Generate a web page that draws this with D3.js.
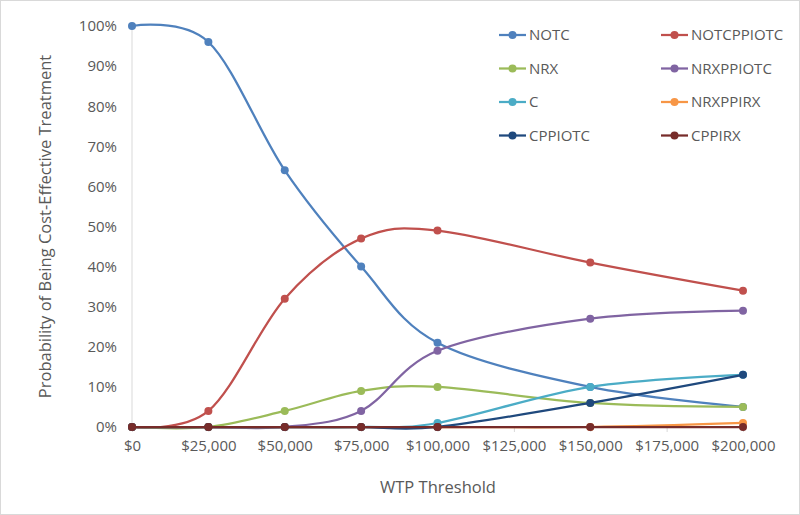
<!DOCTYPE html>
<html><head><meta charset="utf-8">
<script src="https://cdn.jsdelivr.net/npm/d3@7/dist/d3.min.js"></script>
<style>body{margin:0;background:#fff}svg{display:block}</style>
</head><body>
<svg id="c" width="800" height="515"></svg>
<script>
const xValues = [0, 25000, 50000, 75000, 100000, 150000, 200000];
const xTicks = [0, 25000, 50000, 75000, 100000, 125000, 150000, 175000, 200000];
const yTicks = [0, 10, 20, 30, 40, 50, 60, 70, 80, 90, 100];
const seriesNames = ["NOTC","NOTCPPIOTC","NRX","NRXPPIOTC","C","NRXPPIRX","CPPIOTC","CPPIRX"];
const seriesColors = ["#4F81BD","#C0504D","#9BBB59","#8064A2","#4BACC6","#F79646","#1F497D","#772C2A"];
const NOTC       = [100, 96, 64, 40, 21, 10, 5];
const NOTCPPIOTC = [0, 4, 32, 47, 49, 41, 34];
const NRX        = [0, 0, 4, 9, 10, 6, 5];
const NRXPPIOTC  = [0, 0, 0, 4, 19, 27, 29];
const C          = [0, 0, 0, 0, 1, 10, 13];
const NRXPPIRX   = [0, 0, 0, 0, 0, 0, 1];
const CPPIOTC    = [0, 0, 0, 0, 0, 6, 13];
const CPPIRX     = [0, 0, 0, 0, 0, 0, 0];
const seriesValues = [NOTC, NOTCPPIOTC, NRX, NRXPPIOTC, C, NRXPPIRX, CPPIOTC, CPPIRX];

const svg = d3.select("#c");
const font = "'Open Sans', 'Liberation Sans', sans-serif";
const txt = "#595959";
svg.append("rect").attr("x",0.5).attr("y",0.5).attr("width",799).attr("height",514)
  .attr("fill","#fff").attr("stroke","#D9D9D9");

const x = d3.scaleLinear().domain([0,200000]).range([132,743]);
const y = d3.scaleLinear().domain([0,100]).range([427,26]);

svg.append("line").attr("x1",x(0)).attr("x2",x(0)).attr("y1",y(100)).attr("y2",y(0))
  .attr("stroke","#D9D9D9").attr("stroke-width",1);
const xa = svg.append("g").attr("transform",`translate(0,${y(0)})`)
  .call(d3.axisBottom(x).tickValues(xTicks).tickSize(5).tickPadding(8)
    .tickFormat(d => "$" + d3.format(",")(d)));
xa.select(".domain").attr("stroke","#D9D9D9").attr("d",`M${x(0)},0.5H${x(200000)}`);
xa.selectAll(".tick line").attr("stroke","#D9D9D9");
xa.selectAll("text").attr("fill",txt).attr("font-family",font).attr("font-size",15);

const ya = svg.append("g").attr("transform",`translate(${x(0)},0)`)
  .call(d3.axisLeft(y).tickValues(yTicks).tickSize(0).tickPadding(15).tickFormat(d => d + "%"));
ya.select(".domain").remove();
ya.selectAll("text").attr("fill",txt).attr("font-family",font).attr("font-size",15);

svg.append("text").attr("x",438).attr("y",493).attr("text-anchor","middle")
  .attr("fill",txt).attr("font-family",font).attr("font-size",16.5).text("WTP Threshold");
svg.append("text").attr("transform",`translate(51,${(y(0)+y(100))/2}) rotate(-90)`)
  .attr("text-anchor","middle").attr("fill",txt).attr("font-family",font).attr("font-size",16.5)
  .text("Probability of Being Cost-Effective Treatment");

const line = d3.line().x((d,i)=>x(xValues[i])).y(d=>y(d)).curve(d3.curveCardinal.tension(0));
seriesValues.forEach((vals,si)=>{
  const g = svg.append("g");
  g.append("path").attr("d",line(vals)).attr("fill","none")
    .attr("stroke",seriesColors[si]).attr("stroke-width",2.25).attr("stroke-linecap","round");
  g.selectAll("circle").data(vals).join("circle")
    .attr("cx",(d,i)=>x(xValues[i])).attr("cy",d=>y(d)).attr("r",4)
    .attr("fill",seriesColors[si]);
});

const leg = svg.append("g");
seriesNames.forEach((n,i)=>{
  const col = i%2, row = Math.floor(i/2);
  const lx = col===0 ? 499 : 661;
  const ly = 35 + row*33.5;
  leg.append("line").attr("x1",lx).attr("x2",lx+27).attr("y1",ly).attr("y2",ly)
    .attr("stroke",seriesColors[i]).attr("stroke-width",2.25);
  leg.append("circle").attr("cx",lx+13.5).attr("cy",ly).attr("r",4).attr("fill",seriesColors[i]);
  leg.append("text").attr("x",lx+30).attr("y",ly).attr("dy","0.35em")
    .attr("fill",txt).attr("font-family",font).attr("font-size",15).text(n);
});
</script>
</body></html>
